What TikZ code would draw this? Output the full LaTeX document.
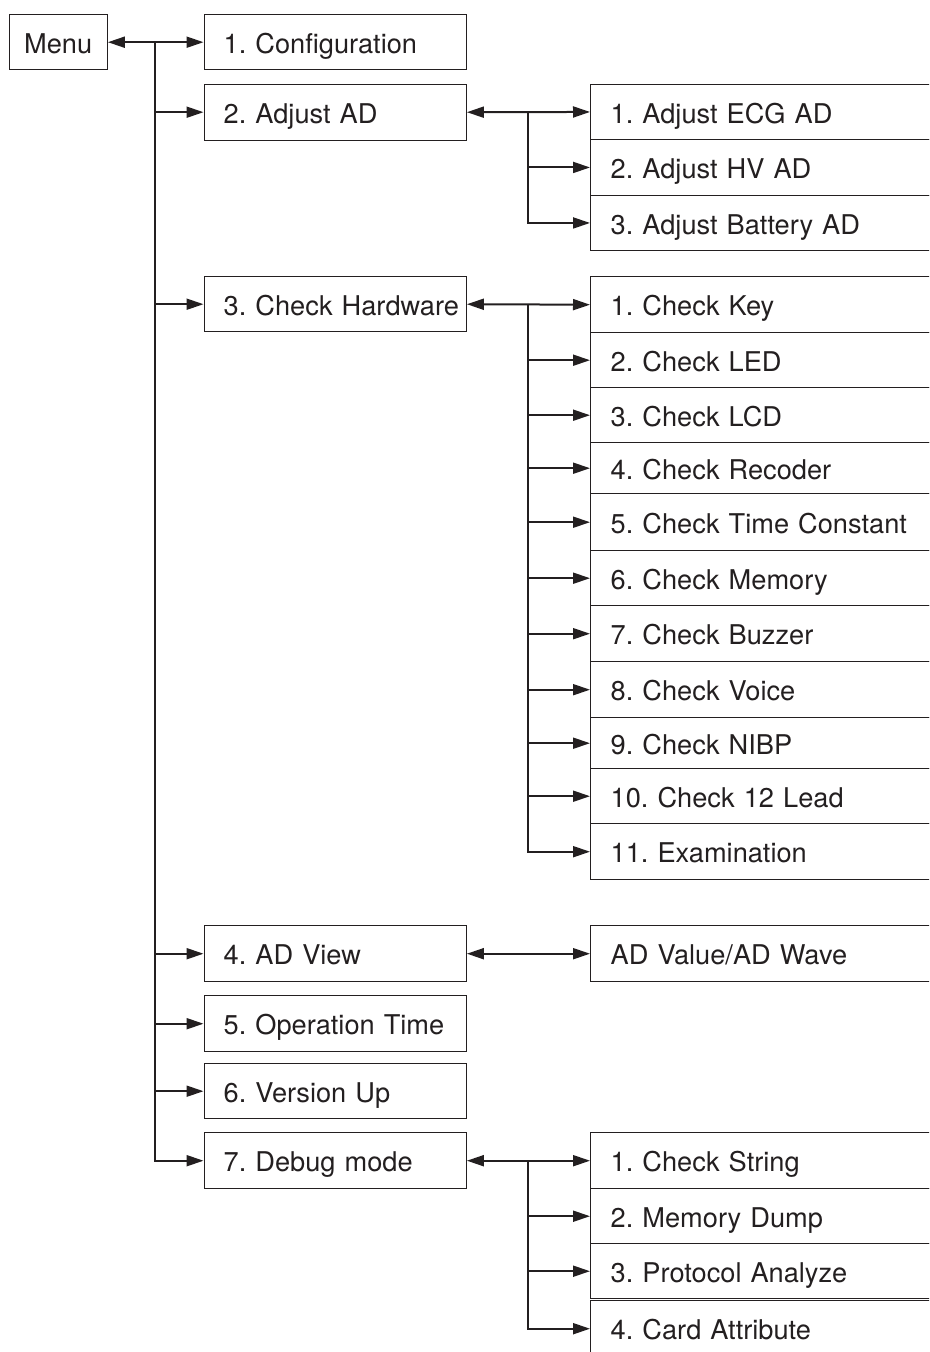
\documentclass[tikz,border=0pt]{standalone}
\usepackage{fontspec}
\setmainfont{TeX Gyre Heros}
\usetikzlibrary{arrows.meta}
\definecolor{ink}{HTML}{231F20}
\frenchspacing
\begin{document}
\begin{tikzpicture}[x=1pt,y=-1pt,
  box/.style={draw=ink, line width=1.4pt, text=ink, rectangle, anchor=north west,
    inner ysep=0pt, font=\fontsize{27.2}{33}\selectfont, text height=22.5pt, text depth=0pt},
  lvl/.style={box, text width=223pt, inner xsep=19.5pt, align=left,
    execute at begin node={\hbox\bgroup}, execute at end node={\egroup}},
  sub/.style={box, text width=380pt, inner xsep=20pt, align=left,
    execute at begin node={\hbox\bgroup}, execute at end node={\egroup}},
  con/.style={draw=ink, line width=2pt},
  arr/.style={con, -{Triangle[length=17pt,width=11pt]}},
  darr/.style={con, {Triangle[length=17pt,width=11pt]}-{Triangle[length=17pt,width=11pt]}}
]
\useasboundingbox (0,0) rectangle (929,1352);
\clip (0,0) rectangle (929,1352);

% menu
\node[box, minimum width=98pt, minimum height=55pt, inner xsep=0pt] (menu) at (8.5,14) {Menu};

% level 1
\node[lvl, minimum height=55pt] (cfg) at (203.5,14) {1. Configuration};
\node[lvl, minimum height=56pt] (adj) at (203.5,83.5) {2. Adjust AD};
\node[lvl, minimum height=55pt] (chk) at (203.5,276) {3. Check Hardware};
\node[lvl, minimum height=56pt] (adv) at (203.5,925) {4. AD View};
\node[lvl, minimum height=56pt] (opt) at (203.5,995) {5. Operation Time};
\node[lvl, minimum height=55pt] (ver) at (203.5,1063) {6. Version Up};
\node[lvl, minimum height=56pt] (dbg) at (203.5,1132) {7. Debug mode};

% adjust AD subs
\node[sub, minimum height=55.5pt] (a1) at (590,83.5) {1. Adjust ECG AD};
\node[sub, minimum height=55.5pt] (a2) at (590,139) {2. Adjust HV AD};
\node[sub, minimum height=55.5pt] (a3) at (590,194.5) {3. Adjust Battery AD};

% check hardware subs
\node[sub, minimum height=56pt] (h1) at (590,276) {1. Check Key};
\node[sub, minimum height=55pt] (h2) at (590,332) {2. Check LED};
\node[sub, minimum height=55pt] (h3) at (590,387) {3. Check LCD};
\node[sub, minimum height=51pt] (h4) at (590,442) {4. Check Recoder};
\node[sub, minimum height=57pt] (h5) at (590,493) {5. Check Time Constant};
\node[sub, minimum height=55pt] (h6) at (590,550) {6. Check Memory};
\node[sub, minimum height=56pt] (h7) at (590,605) {7. Check Buzzer};
\node[sub, minimum height=56pt] (h8) at (590,661) {8. Check Voice};
\node[sub, minimum height=51pt] (h9) at (590,717) {9. Check NIBP};
\node[sub, minimum height=55pt] (h10) at (590,768) {10. Check 12 Lead};
\node[sub, minimum height=56pt] (h11) at (590,823) {11. Examination};

% AD view sub
\node[sub, minimum height=56pt] (adw) at (590,925) {AD Value/AD Wave};

% debug subs
\node[sub, minimum height=56pt] (d1) at (590,1132) {1. Check String};
\node[sub, minimum height=55pt] (d2) at (590,1188) {2. Memory Dump};
\node[sub, minimum height=55pt] (d3) at (590,1243) {3. Protocol Analyze};
\node[sub, minimum height=56pt] (d4) at (590,1300) {4. Card Attribute};

% trunk
\coordinate (t0) at (155,41.5);
\coordinate (b0) at (528,0);
\draw[darr] (menu.east) -- (cfg.west);
\draw[arr] (t0) |- (dbg.west);
\foreach \n in {adj,chk,adv,opt,ver}
  \draw[arr] (t0 |- \n.west) -- (\n.west);

% adjust AD bus
\draw[darr] (adj.east) -- (a1.west);
\draw[arr] (b0 |- a1.west) |- (a3.west);
\draw[arr] (b0 |- a2.west) -- (a2.west);

% check hardware bus
\draw[darr] (chk.east) -- (h1.west);
\draw[arr] (b0 |- h1.west) |- (h11.west);
\foreach \n in {h2,h3,h4,h5,h6,h7,h8,h9,h10}
  \draw[arr] (b0 |- \n.west) -- (\n.west);

% AD view
\draw[darr] (adv.east) -- (adw.west);

% debug bus
\draw[darr] (dbg.east) -- (d1.west);
\draw[arr] (b0 |- d1.west) |- (d4.west);
\foreach \n in {d2,d3}
  \draw[arr] (b0 |- \n.west) -- (\n.west);
\end{tikzpicture}
\end{document}
